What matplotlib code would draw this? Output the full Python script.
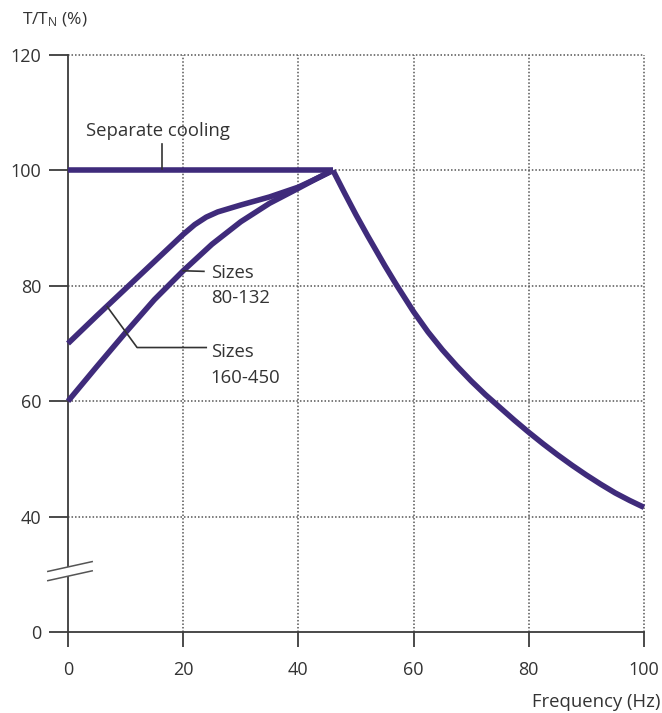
import matplotlib
matplotlib.use("Agg")
import matplotlib.pyplot as plt
from matplotlib.patches import Polygon

plt.rcParams['font.family'] = ['Open Sans', 'DejaVu Sans']
plt.rcParams['mathtext.fontset'] = 'custom'
plt.rcParams['mathtext.rm'] = 'Open Sans'
plt.rcParams['mathtext.it'] = 'Open Sans'

# ---- data ----
sep_f = [0, 46]
sep_t = [100, 100]

small_f = [0, 5, 10, 15, 20, 22, 24, 26, 30, 35, 40, 43, 46]
small_t = [70, 74.8, 79.5, 84.2, 88.9, 90.6, 91.9, 92.8, 94.0, 95.4, 97.1, 98.5, 100]

large_f = [0, 5, 10, 15, 20, 25, 30, 35, 40, 43, 46]
large_t = [60, 66.0, 71.9, 77.6, 82.6, 87.2, 91.1, 94.3, 96.9, 98.5, 100]

weak_f = [46, 48, 50, 52, 55, 57, 60, 62.5, 65, 67.5, 70, 72.5, 75, 77.5, 80,
          82.5, 85, 87.5, 90, 92.5, 95, 97.5, 100]
weak_t = [100, 96.1, 92.3, 88.7, 83.5, 80.2, 75.5, 72.0, 68.9, 66.1, 63.5, 61.1,
          58.9, 56.7, 54.6, 52.6, 50.7, 48.9, 47.2, 45.6, 44.1, 42.8, 41.6]

x_ticks = [0, 20, 40, 60, 80, 100]
y_ticks = [20, 40, 60, 80, 100, 120]
y_tick_labels = ['0', '40', '60', '80', '100', '120']

line_color = '#3f2b7b'
text_color = '#333333'
axis_color = '#3c3c3c'

fig = plt.figure(figsize=(6.62, 7.13), dpi=100)
ax = fig.add_axes([0.1027, 0.1136, 0.8701, 0.8093])

ax.set_xlim(0, 100)
ax.set_ylim(20, 120)

for f, t in [(sep_f, sep_t), (small_f, small_t), (large_f, large_t), (weak_f, weak_t)]:
    ax.plot(f, t, color=line_color, lw=4.0, solid_capstyle='butt',
            solid_joinstyle='round', zorder=5, clip_on=False)

ax.set_xticks(x_ticks)
ax.set_yticks(y_ticks)
ax.set_yticklabels(y_tick_labels)

for s in ['top', 'right']:
    ax.spines[s].set_visible(False)
for s in ['left', 'bottom']:
    ax.spines[s].set_color(axis_color)
    ax.spines[s].set_linewidth(1.3)

ax.tick_params(axis='y', direction='out', length=14, width=1.3, color=axis_color,
               labelsize=13, labelcolor=text_color, pad=5)
ax.tick_params(axis='x', direction='out', length=11, width=1.3, color=axis_color,
               labelsize=13, labelcolor=text_color, pad=10)

ax.grid(True, linestyle=(0, (1, 1.3)), color='#555555', lw=1.1)
for gl in ax.get_xgridlines() + ax.get_ygridlines():
    gl.set_clip_on(False)
ax.get_xgridlines()[0].set_visible(False)
ax.get_ygridlines()[0].set_visible(False)
ax.set_axisbelow(True)

# axis titles
fig.text(22 / 662, 1 - 20 / 713, r'T/T$_{\mathrm{N}}$ (%)', fontsize=12.5,
         color=text_color, ha='left', va='center')
fig.text(660 / 662, 1 - 702 / 713, 'Frequency (Hz)', fontsize=13.3,
         color=text_color, ha='right', va='center')

# annotations
lc = '#333333'
fs = 13.3
ax.plot([16.3, 16.3], [100.3, 104.6], color=lc, lw=1.2, zorder=6)
ax.text(3.2, 106.8, 'Separate cooling', fontsize=fs, color=text_color,
        ha='left', va='center')

ax.plot([20.0, 23.6], [82.6, 82.5], color=lc, lw=1.2, zorder=6)
ax.text(24.8, 82.3, 'Sizes', fontsize=fs, color=text_color, ha='left', va='center')
ax.text(24.8, 77.9, '80-132', fontsize=fs, color=text_color, ha='left', va='center')

ax.plot([6.8, 12.0, 24.0], [76.4, 69.3, 69.3], color=lc, lw=1.2, zorder=6)
ax.text(24.8, 68.6, 'Sizes', fontsize=fs, color=text_color, ha='left', va='center')
ax.text(24.8, 64.1, '160-450', fontsize=fs, color=text_color, ha='left', va='center')

# axis break marks
gap = Polygon([[-3.5, 30.5], [4.2, 32.2], [4.2, 30.6], [-3.5, 28.9]],
              closed=True, facecolor='white', edgecolor='none', zorder=7, clip_on=False)
ax.add_patch(gap)
ax.plot([-3.5, 4.2], [30.5, 32.2], color='#555555', lw=1.1, zorder=8, clip_on=False)
ax.plot([-3.5, 4.2], [28.9, 30.6], color='#555555', lw=1.1, zorder=8, clip_on=False)

fig.savefig('out.png', dpi=100)
